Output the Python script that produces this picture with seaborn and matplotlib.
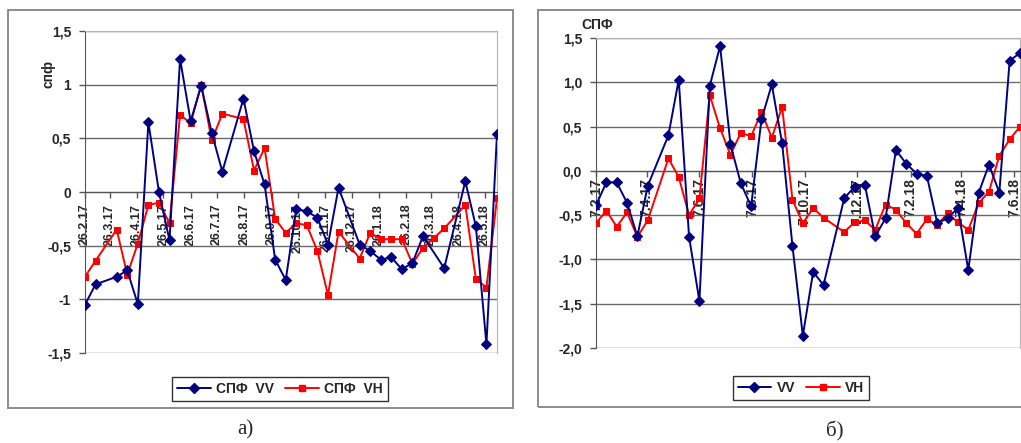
import matplotlib
matplotlib.use("Agg")
import matplotlib.pyplot as plt
from matplotlib.patches import Rectangle
from matplotlib.lines import Line2D
import pandas as pd
import seaborn as sns

sns.set_style("white")
plt.rcParams["font.family"] = ["Liberation Sans", "DejaVu Sans"]
plt.rcParams["font.weight"] = "bold"

# ---- panel a: backscatter index, monthly labels ----
a_dates = ["2017-02-26", "2017-03-10", "2017-04-03", "2017-04-15", "2017-04-27",
           "2017-05-09", "2017-05-21", "2017-06-02", "2017-06-14", "2017-06-26",
           "2017-07-08", "2017-07-20", "2017-08-01", "2017-08-25", "2017-09-06",
           "2017-09-18", "2017-09-30", "2017-10-12", "2017-10-24", "2017-11-05",
           "2017-11-17", "2017-11-29", "2017-12-11", "2018-01-04", "2018-01-16",
           "2018-01-28", "2018-02-09", "2018-02-21", "2018-03-05", "2018-03-17",
           "2018-03-29", "2018-04-10", "2018-05-04", "2018-05-16", "2018-05-28",
           "2018-06-09"]
a_vv = [-1.05, -0.86, -0.79, -0.73, -1.045, 0.65, 0.0, -0.45, 1.24, 0.66,
        0.99, 0.55, 0.19, 0.87, 0.38, 0.07, -0.63, -0.82, -0.16, -0.18,
        -0.24, -0.49, 0.04, -0.49, -0.55, -0.63, -0.61, -0.72, -0.66, -0.41,
        None, -0.71, 0.10, -0.32, -1.42, 0.54]
a_vh = [-0.79, -0.64, -0.35, -0.77, -0.48, -0.12, -0.10, -0.29, 0.72, 0.64,
        1.00, 0.48, 0.73, 0.68, 0.20, 0.41, -0.25, -0.38, -0.29, -0.31,
        -0.55, -0.96, -0.37, -0.62, -0.38, -0.44, -0.44, -0.44, -0.67, -0.52,
        -0.43, -0.34, -0.12, -0.81, -0.89, -0.06]
a_tick_dates = ["2017-02-26", "2017-03-26", "2017-04-26", "2017-05-26", "2017-06-26",
                "2017-07-26", "2017-08-26", "2017-09-26", "2017-10-26", "2017-11-26",
                "2017-12-26", "2018-01-26", "2018-02-26", "2018-03-26", "2018-04-26",
                "2018-05-26"]
a_tick_labels = ["26.2.17", "26.3.17", "26.4.17", "26.5.17", "26.6.17", "26.7.17",
                 "26.8.17", "26.9.17", "26.10.17", "26.11.17", "26.12.17", "26.1.18",
                 "26.2.18", "26.3.18", "26.4.18", "26.5.18"]
a_yticks = [-1.5, -1.0, -0.5, 0.0, 0.5, 1.0, 1.5]
a_ylabels = ["-1,5", "-1", "-0,5", "0", "0,5", "1", "1,5"]
a_names = ["СПФ  VV", "СПФ  VH"]

# ---- panel б: second site, two-month labels ----
b_dates = ["2017-02-07", "2017-02-19", "2017-03-03", "2017-03-15", "2017-03-27",
           "2017-04-08", "2017-05-02", "2017-05-14", "2017-05-26", "2017-06-07",
           "2017-06-19", "2017-07-01", "2017-07-13", "2017-07-25", "2017-08-06",
           "2017-08-18", "2017-08-30", "2017-09-11", "2017-09-23", "2017-10-05",
           "2017-10-17", "2017-10-29", "2017-11-22", "2017-12-04", "2017-12-16",
           "2017-12-28", "2018-01-09", "2018-01-21", "2018-02-02", "2018-02-14",
           "2018-02-26", "2018-03-10", "2018-03-22", "2018-04-03", "2018-04-15",
           "2018-04-27", "2018-05-09", "2018-05-21", "2018-06-02", "2018-06-14"]
b_vv = [-0.39, -0.13, -0.13, -0.36, -0.74, -0.17, 0.40, 1.03, -0.745, -1.47,
        0.96, 1.41, 0.30, -0.14, -0.40, 0.58, 0.975, 0.31, -0.85, -1.86,
        -1.14, -1.29, -0.31, -0.18, -0.16, -0.74, -0.535, 0.235, 0.08, -0.03,
        -0.06, -0.59, -0.535, -0.42, -1.12, -0.25, 0.07, -0.245, 1.245, 1.33]
b_vh = [-0.59, -0.45, -0.63, -0.47, -0.745, -0.56, 0.14, -0.07, -0.50, -0.31,
        0.855, 0.48, 0.18, 0.43, 0.39, 0.665, 0.375, 0.72, -0.33, -0.59,
        -0.42, -0.53, -0.69, -0.58, -0.56, -0.665, -0.38, -0.44, -0.59, -0.71,
        -0.545, -0.61, -0.48, -0.58, -0.665, -0.365, -0.235, 0.17, 0.355, 0.50]
b_tick_dates = ["2017-02-07", "2017-04-07", "2017-06-07", "2017-08-07", "2017-10-07",
                "2017-12-07", "2018-02-07", "2018-04-07", "2018-06-07"]
b_tick_labels = ["7.2.17", "7.4.17", "7.6.17", "7.8.17", "7.10.17", "7.12.17",
                 "7.2.18", "7.4.18", "7.6.18"]
b_yticks = [-2.0, -1.5, -1.0, -0.5, 0.0, 0.5, 1.0, 1.5]
b_ylabels = ["-2,0", "-1,5", "-1,0", "-0,5", "0,0", "0,5", "1,0", "1,5"]
b_names = ["VV", "VH"]

VV_COLOR = "#000080"
VH_COLOR = "#ff0000"
GRID = "#6a6a6a"

W, H = 1021, 443
fig = plt.figure(figsize=(W / 100, H / 100), dpi=100)


def px_axes(x0, y0, x1, y1):
    return fig.add_axes([x0 / W, 1 - y1 / H, (x1 - x0) / W, (y1 - y0) / H])


def frame(x0, y0, x1, y1):
    fig.add_artist(Rectangle((x0 / W, 1 - y1 / H), (x1 - x0) / W, (y1 - y0) / H,
                             transform=fig.transFigure, fill=False,
                             edgecolor="#8c8c8c", lw=1.4))


def draw_panel(ax, dates, vv, vh, tdates, tlabels, yt, yl, ylim, xfs, xpad):
    d = pd.to_datetime(dates)
    s_vv = pd.Series(vv, index=d, dtype=float).dropna()
    s_vh = pd.Series(vh, index=d, dtype=float).dropna()
    sns.lineplot(x=s_vv.index, y=s_vv.values, ax=ax, color=VV_COLOR, lw=1.4,
                 marker="D", markersize=5.2, markeredgecolor=VV_COLOR,
                 markerfacecolor=VV_COLOR, zorder=5)
    sns.lineplot(x=s_vh.index, y=s_vh.values, ax=ax, color=VH_COLOR, lw=1.4,
                 marker="s", markersize=4.2, markeredgecolor=VH_COLOR,
                 markerfacecolor=VH_COLOR, zorder=4)
    ax.set_xlim(d.min(), d.max())
    ax.set_ylim(*ylim)
    ax.set_yticks(yt)
    ax.set_yticklabels(yl)
    ax.set_xticks(pd.to_datetime(tdates))
    ax.set_xticklabels(tlabels)
    ax.tick_params(axis="x", labelrotation=90, labelsize=xfs, pad=xpad)
    ax.tick_params(axis="y", labelsize=10, pad=6)
    ax.grid(axis="y", color=GRID, lw=1.0)
    ax.grid(axis="x", visible=False)
    ax.set_axisbelow(True)
    ax.spines["bottom"].set_position(("data", 0))
    ax.spines["bottom"].set_color("#555555")
    ax.spines["left"].set_color("#555555")
    for s in ("top", "right"):
        ax.spines[s].set_color("#b4b4b4")
    ax.tick_params(axis="both", direction="out", length=4, width=1,
                   color="#555555", bottom=True, left=True)
    ax.set_xlabel("")
    ax.set_ylabel("")
    ax.set_facecolor("white")
    handles = [Line2D([], [], color=VV_COLOR, lw=1.4, marker="D", markersize=5.2),
               Line2D([], [], color=VH_COLOR, lw=1.4, marker="s", markersize=4.2)]
    return handles


# panel a
frame(8, 10, 513, 408)
ax1 = px_axes(85, 31, 497, 353)
h1 = draw_panel(ax1, a_dates, a_vv, a_vh, a_tick_dates, a_tick_labels,
                a_yticks, a_ylabels, (-1.5, 1.5), 9, 4.5)
fig.text(48 / W, 1 - 74 / H, "спф", rotation=90, ha="center", va="center",
         fontsize=10)
leg1 = fig.legend(h1, a_names, loc="center", bbox_to_anchor=(280 / W, 1 - 389 / H),
                  ncol=2, frameon=True, fancybox=False, edgecolor="black",
                  handlelength=2.4, columnspacing=0.8, handletextpad=0.4,
                  borderpad=0.35, prop={"weight": "bold", "size": 10})
leg1.get_frame().set_linewidth(1.0)
fig.text(245 / W, 1 - 430 / H, "а)", ha="center", va="center", fontsize=15,
         family="Liberation Serif", fontweight="normal")

# panel б
frame(538, 10, 1030, 407)
ax2 = px_axes(596, 38, 1020, 348)
h2 = draw_panel(ax2, b_dates, b_vv, b_vh, b_tick_dates, b_tick_labels,
                b_yticks, b_ylabels, (-2.0, 1.5), 10, 1.5)
fig.text(597 / W, 1 - 25 / H, "СПФ", ha="center", va="center", fontsize=10)
leg2 = fig.legend(h2, b_names, loc="center", bbox_to_anchor=(801 / W, 1 - 388 / H),
                  ncol=2, frameon=True, fancybox=False, edgecolor="black",
                  handlelength=2.4, columnspacing=0.8, handletextpad=0.4,
                  borderpad=0.35, prop={"weight": "bold", "size": 10})
leg2.get_frame().set_linewidth(1.0)
fig.text(835 / W, 1 - 431 / H, "б)", ha="center", va="center", fontsize=15,
         family="Liberation Serif", fontweight="normal")

fig.savefig("out.png", dpi=100)
